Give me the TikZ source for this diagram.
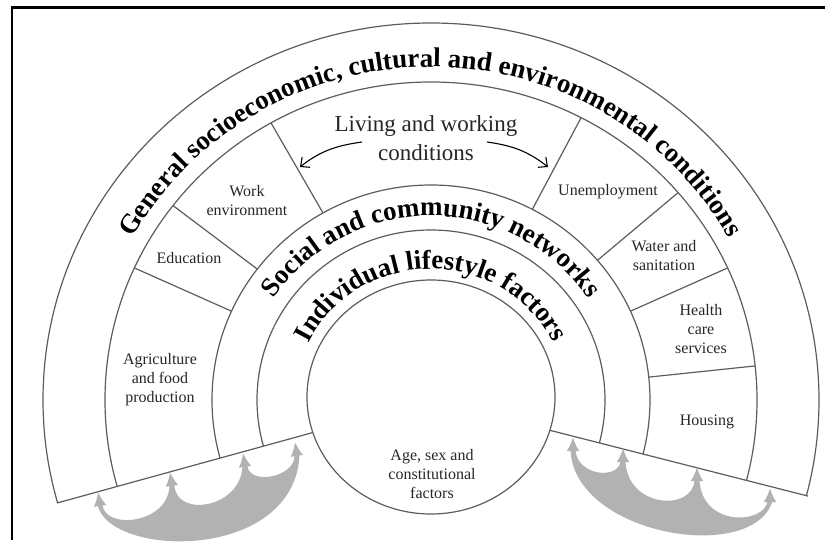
\documentclass[tikz,border=0pt]{standalone}
\usepackage{fontspec}
\setmainfont{Liberation Serif}
\usetikzlibrary{calc}
\usetikzlibrary{arrows.meta}
\usetikzlibrary{decorations.text}
\definecolor{rimgray}{rgb}{0.36,0.36,0.36}
\definecolor{flowgray}{rgb}{0.70,0.70,0.70}
\newcommand{\archfont}{\fontsize{27}{30}\selectfont\bfseries}

\begin{document}
\begin{tikzpicture}[%
  x=1pt, y=1pt,
  >={Straight Barb[length=7pt,width=13pt]},
  rim/.style={draw=rimgray, line width=1.2pt},
  boxtext/.style={align=center, text=black!85, font=\fontsize{16}{19}\selectfont},
  flowhead/.style={draw=flowgray, line width=5pt, -{Latex[length=14pt,width=13pt]}},
  arch/.style={decorate, decoration={text along path, text align=center, text={|\archfont|#1}}},
]

  \useasboundingbox (-431,-144) rectangle (394,400);
  \draw[line width=2.6pt] (-419,-140) -- (-419,392.5) -- (394,392.5);

  \begin{scope}
    \clip (0,0) -- (195.4:600) -- (-600,420) -- (600,420) -- (-14.3:600) -- cycle;
    \begin{scope}
      \clip (0,0) ellipse [x radius=326, y radius=318];
      \foreach \ang in {156,143,120,62,40,24,6}
        \draw[rim] (\ang:200) -- (\ang:340);
    \end{scope}
    \fill[white] (0,0) ellipse [x radius=219, y radius=215];
    \draw[rim] (0,0) ellipse [x radius=388, y radius=377];
    \draw[rim] (0,0) ellipse [x radius=326, y radius=318];
    \draw[rim] (0,0) ellipse [x radius=219, y radius=215];
    \draw[rim] (0,0) ellipse [x radius=174, y radius=170];
  \end{scope}

  \draw[rim] (195.4:123) -- (195.4:388);
  \draw[rim] (-14.3:123) -- (-14.3:389);
  \draw[rim] (0,3) ellipse [x radius=124, y radius=117];

  \path[arch={General socioeconomic, cultural and environmental conditions}]
    (-341,0) arc [start angle=180, end angle=0, x radius=341, y radius=333];
  \path[arch={Social and community networks}]
    (-188,0) arc [start angle=180, end angle=0, x radius=188, y radius=184];
  \path[arch={Individual lifestyle factors}]
    (-136,0) arc [start angle=180, end angle=0, x radius=136, y radius=131];

  \node[boxtext, font=\fontsize{23}{29}\selectfont] (living) at (-5,262) {Living and working\\conditions};
  \coordinate (livl) at (-69,258);
  \coordinate (livlend) at (-131,233);
  \coordinate (livr) at (56,258);
  \coordinate (livrend) at (117,233);
  \draw[->, line width=1.1pt] (livl) to[out=188, in=38] (livlend);
  \draw[->, line width=1.1pt] (livr) to[out=-8, in=142] (livrend);

  \node[boxtext] (agri) at (-271,20) {Agriculture\\and food\\production};
  \node[boxtext] (edu) at (-242,142) {Education};
  \node[boxtext] (work) at (-184,199) {Work\\environment};
  \node[boxtext] (unemp) at (177,208) {Unemployment};
  \node[boxtext] (water) at (233,144) {Water and\\sanitation};
  \node[boxtext] (health) at (270,71) {Health\\care\\services};
  \node[boxtext] (housing) at (276,-22) {Housing};
  \node[boxtext] (age) at (1,-74) {Age, sex and\\constitutional\\factors};

  \fill[flowgray] (-333.5,-105) .. controls (-321,-158) and (-138,-162) .. (-131.5,-56)
    -- (-136.5,-56) .. controls (-137,-78) and (-182,-85) .. (-183.5,-66)
    -- (-188.5,-66) .. controls (-190,-108) and (-254,-118) .. (-256.5,-86)
    -- (-261.5,-86) .. controls (-263,-124) and (-326,-130) .. (-328.5,-105)
    -- cycle;
  \fill[flowgray] (139.5,-50) .. controls (143,-135) and (322,-165) .. (341.5,-101)
    -- (336.5,-101) .. controls (334,-124) and (271,-128) .. (268.5,-80)
    -- (263.5,-80) .. controls (262,-112) and (196,-108) .. (194.5,-61)
    -- (189.5,-61) .. controls (188,-80) and (146,-76) .. (144.5,-50)
    -- cycle;

  \coordinate (a1) at (-333,-92);  \coordinate (a1b) at (-331,-105);
  \coordinate (a2) at (-261,-72);  \coordinate (a2b) at (-259,-86);
  \coordinate (a3) at (-188,-53);  \coordinate (a3b) at (-186,-66);
  \coordinate (a4) at (-136,-42);  \coordinate (a4b) at (-134,-56);
  \coordinate (b1) at (142,-37);   \coordinate (b1b) at (142,-50);
  \coordinate (b2) at (192,-48);   \coordinate (b2b) at (192,-61);
  \coordinate (b3) at (266,-67);   \coordinate (b3b) at (266,-80);
  \coordinate (b4) at (339,-88);   \coordinate (b4b) at (339,-101);
  \foreach \p in {a1,a2,a3,a4,b1,b2,b3,b4}
    \draw[flowhead] (\p b) -- (\p);

\end{tikzpicture}
\end{document}
